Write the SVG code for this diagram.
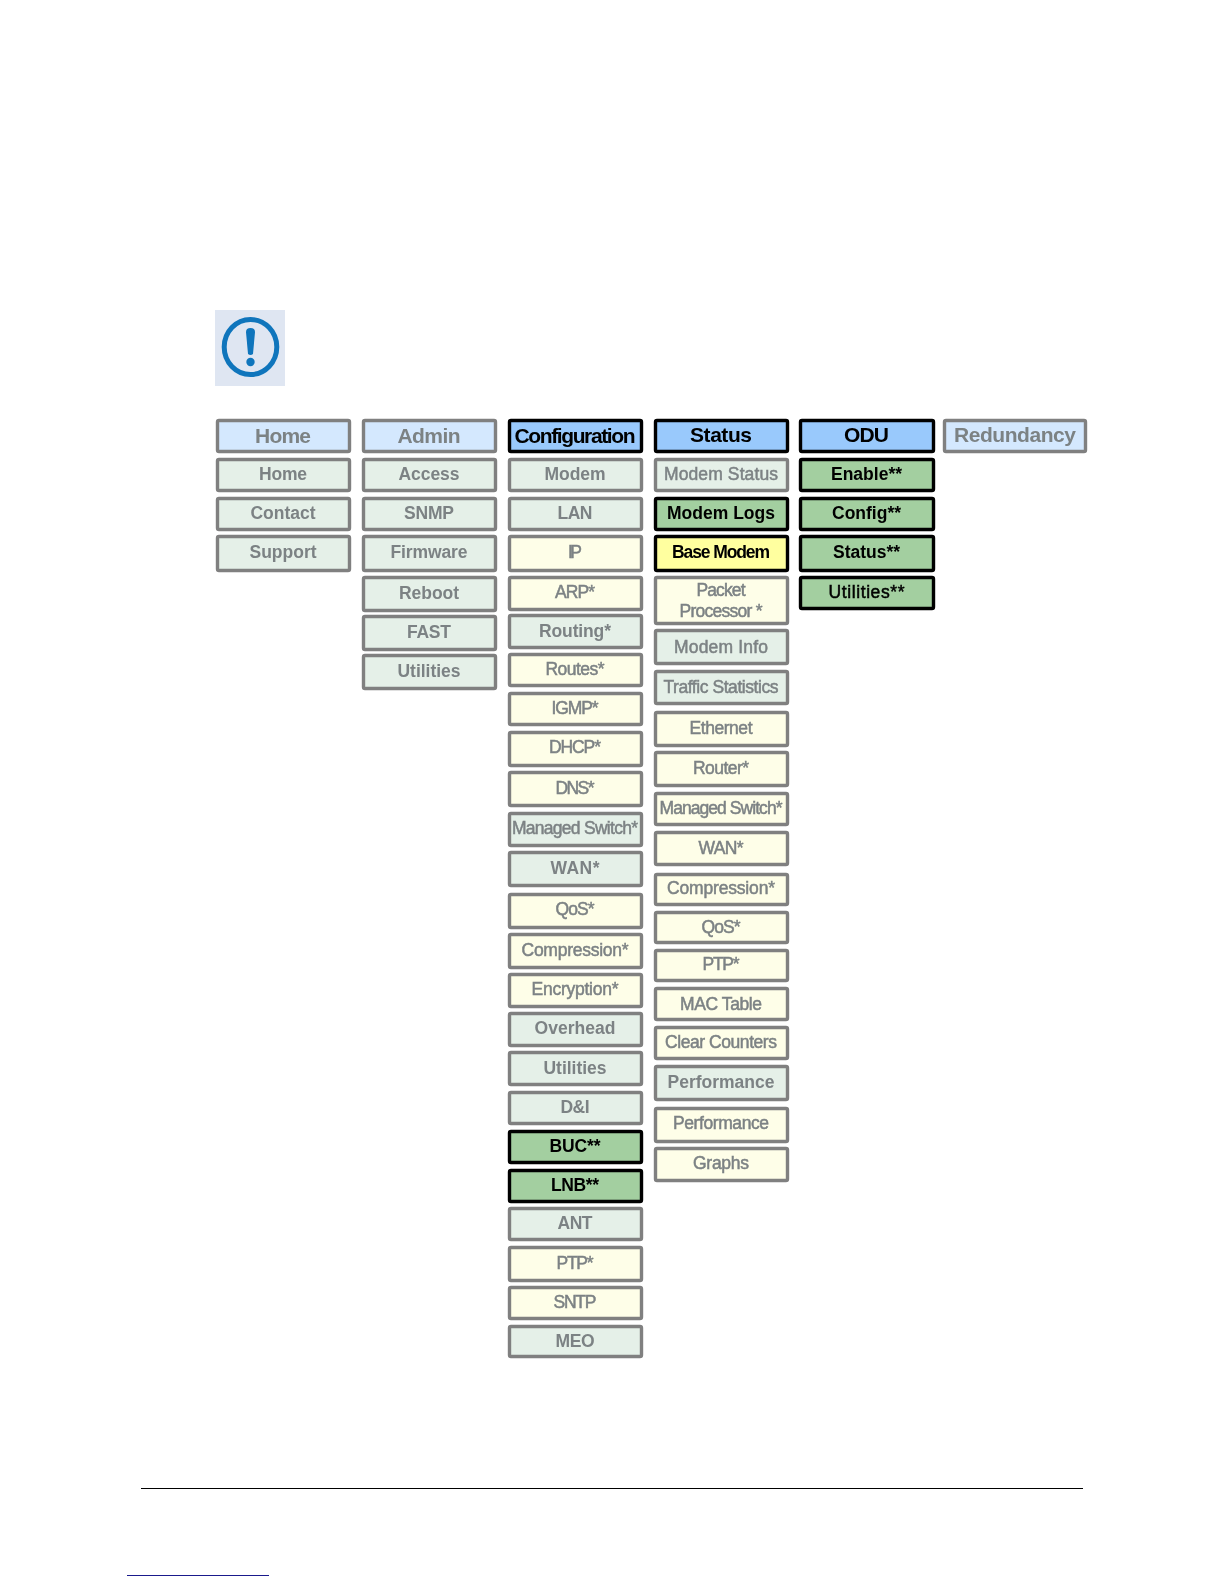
<svg xmlns="http://www.w3.org/2000/svg" width="1224" height="1584" viewBox="0 0 1224 1584">
<defs><filter id="soft" x="-10%" y="-5%" width="120%" height="110%" filterUnits="objectBoundingBox"><feGaussianBlur stdDeviation="0.4"/></filter></defs>
<style>
g.col{filter:url(#soft)}
rect{stroke:#808080;stroke-width:3.4}
rect.h{fill:#d4e8fe}
rect.a{fill:#99c9fc;stroke:#000}
rect.g{fill:#e5f0e8}
rect.y{fill:#fefee8}
rect.d{fill:#a3cfa0;stroke:#000}
rect.b{fill:#ffff9f;stroke:#000}
text{font-family:"Liberation Sans",Arial,sans-serif;font-size:17.500px;text-anchor:middle;fill:#7c8284;font-weight:bold}
text.m{font-weight:normal;font-size:17.500px;stroke:#7c8284;stroke-width:.5}
text.t{font-size:21px}
text.k{fill:#000}
text.km{fill:#000;stroke:#000;font-weight:normal;font-size:17.500px;stroke-width:.5}
</style>
<rect width="1224" height="1584" style="fill:#fff;stroke:none"/>
<g id="icon">
<rect x="215" y="310" width="70" height="76" style="fill:#dfe6f2;stroke:none"/>
<ellipse cx="250.500" cy="347" rx="26.300" ry="27.500" style="fill:none;stroke:#0f75bc;stroke-width:5"/>
<path d="M246 332Q246 328 250.500 328Q255 328 255 332L253 354Q250.500 356 248 354Z" fill="#0f75bc"/>
<circle cx="250.500" cy="362" r="4.200" fill="#0f75bc"/>
</g>
<g id="col-home" class="col">
<g id="n-home-h"><rect class="h" x="217.500" y="420.500" width="132" height="31" rx="1.500"/><text class="t" x="283" y="443" textLength="56">Home</text></g>
<g id="n-home"><rect class="g" x="217.500" y="459.500" width="132" height="31" rx="1.500"/><text x="283" y="480" textLength="48">Home</text></g>
<g id="n-contact"><rect class="g" x="217.500" y="498.500" width="132" height="31" rx="1.500"/><text x="283" y="519" textLength="65">Contact</text></g>
<g id="n-support"><rect class="g" x="217.500" y="536.500" width="132" height="34" rx="1.500"/><text x="283" y="558" textLength="67">Support</text></g>
</g>
<g id="col-admin" class="col">
<g id="n-admin-h"><rect class="h" x="363.500" y="420.500" width="132" height="31" rx="1.500"/><text class="t" x="429" y="443" textLength="63">Admin</text></g>
<g id="n-access"><rect class="g" x="363.500" y="459.500" width="132" height="31" rx="1.500"/><text x="429" y="480" textLength="61">Access</text></g>
<g id="n-snmp"><rect class="g" x="363.500" y="498.500" width="132" height="31" rx="1.500"/><text x="429" y="519" textLength="50">SNMP</text></g>
<g id="n-firmware"><rect class="g" x="363.500" y="536.500" width="132" height="34" rx="1.500"/><text x="429" y="558" textLength="77">Firmware</text></g>
<g id="n-reboot"><rect class="g" x="363.500" y="577.500" width="132" height="33" rx="1.500"/><text x="429" y="599" textLength="60">Reboot</text></g>
<g id="n-fast"><rect class="g" x="363.500" y="616.500" width="132" height="33" rx="1.500"/><text x="429" y="638" textLength="44">FAST</text></g>
<g id="n-admin-util"><rect class="g" x="363.500" y="655.500" width="132" height="33" rx="1.500"/><text x="429" y="677" textLength="63">Utilities</text></g>
</g>
<g id="col-config" class="col">
<g id="n-config-h"><rect class="a" x="509.500" y="420.500" width="132" height="31" rx="1.500"/><text class="t k" x="575" y="443" textLength="121">Configuration</text></g>
<g id="n-modem"><rect class="g" x="509.500" y="459.500" width="132" height="31" rx="1.500"/><text x="575" y="480" textLength="61">Modem</text></g>
<g id="n-lan"><rect class="g" x="509.500" y="498.500" width="132" height="31" rx="1.500"/><text x="575" y="519" textLength="35">LAN</text></g>
<g id="n-ip"><rect class="y" x="509.500" y="536.500" width="132" height="34" rx="1.500"/><text class="m" x="575" y="558" textLength="14">IP</text></g>
<g id="n-arp"><rect class="y" x="509.500" y="577.500" width="132" height="32" rx="1.500"/><text class="m" x="575" y="598" textLength="40">ARP*</text></g>
<g id="n-routing"><rect class="g" x="509.500" y="615.500" width="132" height="32" rx="1.500"/><text x="575" y="637" textLength="72">Routing*</text></g>
<g id="n-routes"><rect class="y" x="509.500" y="654.500" width="132" height="31" rx="1.500"/><text class="m" x="575" y="675" textLength="59">Routes*</text></g>
<g id="n-igmp"><rect class="y" x="509.500" y="693.500" width="132" height="31" rx="1.500"/><text class="m" x="575" y="714" textLength="47">IGMP*</text></g>
<g id="n-dhcp"><rect class="y" x="509.500" y="732.500" width="132" height="33" rx="1.500"/><text class="m" x="575" y="753" textLength="52">DHCP*</text></g>
<g id="n-dns"><rect class="y" x="509.500" y="772.500" width="132" height="33" rx="1.500"/><text class="m" x="575" y="794" textLength="39">DNS*</text></g>
<g id="n-ms"><rect class="g" x="509.500" y="813.500" width="132" height="32" rx="1.500"/><text class="m" x="575" y="834" textLength="126">Managed Switch*</text></g>
<g id="n-wan"><rect class="g" x="509.500" y="852.500" width="132" height="33" rx="1.500"/><text x="575" y="874" textLength="49">WAN*</text></g>
<g id="n-qos"><rect class="y" x="509.500" y="894.500" width="132" height="33" rx="1.500"/><text class="m" x="575" y="915" textLength="39">QoS*</text></g>
<g id="n-comp"><rect class="y" x="509.500" y="934.500" width="132" height="33" rx="1.500"/><text class="m" x="575" y="956" textLength="107">Compression*</text></g>
<g id="n-encr"><rect class="y" x="509.500" y="974.500" width="132" height="32" rx="1.500"/><text class="m" x="575" y="995" textLength="87">Encryption*</text></g>
<g id="n-overhead"><rect class="g" x="509.500" y="1013.500" width="132" height="32" rx="1.500"/><text x="575" y="1034" textLength="81">Overhead</text></g>
<g id="n-util"><rect class="g" x="509.500" y="1052.500" width="132" height="32" rx="1.500"/><text x="575" y="1074" textLength="63">Utilities</text></g>
<g id="n-di"><rect class="g" x="509.500" y="1092.500" width="132" height="31" rx="1.500"/><text x="575" y="1113" textLength="29">D&amp;I</text></g>
<g id="n-buc"><rect class="d" x="509.500" y="1131.500" width="132" height="31" rx="1.500"/><text class="k" x="575" y="1152" textLength="51">BUC**</text></g>
<g id="n-lnb"><rect class="d" x="509.500" y="1170.500" width="132" height="31" rx="1.500"/><text class="k" x="575" y="1191" textLength="48">LNB**</text></g>
<g id="n-ant"><rect class="g" x="509.500" y="1208.500" width="132" height="31" rx="1.500"/><text x="575" y="1229" textLength="35">ANT</text></g>
<g id="n-ptp"><rect class="y" x="509.500" y="1247.500" width="132" height="33" rx="1.500"/><text class="m" x="575" y="1269" textLength="37">PTP*</text></g>
<g id="n-sntp"><rect class="y" x="509.500" y="1287.500" width="132" height="31" rx="1.500"/><text class="m" x="575" y="1308" textLength="43">SNTP</text></g>
<g id="n-meo"><rect class="g" x="509.500" y="1326.500" width="132" height="30" rx="1.500"/><text x="575" y="1347" textLength="39">MEO</text></g>
</g>
<g id="col-status" class="col">
<g id="n-status-h"><rect class="a" x="655.500" y="420.500" width="132" height="31" rx="1.500"/><text class="t k" x="721" y="442" textLength="62">Status</text></g>
<g id="n-modemstatus"><rect class="g" x="655.500" y="459.500" width="132" height="31" rx="1.500"/><text class="m" x="721" y="480" textLength="114">Modem Status</text></g>
<g id="n-logs"><rect class="d" x="655.500" y="498.500" width="132" height="31" rx="1.500"/><text class="k" x="721" y="519" textLength="108">Modem Logs</text></g>
<g id="n-base"><rect class="b" x="655.500" y="536.500" width="132" height="34" rx="1.500"/><text class="k" x="721" y="558" textLength="98">Base Modem</text></g>
<g id="n-packet"><rect class="y" x="655.500" y="577.500" width="132" height="46" rx="1.500"/><text class="m" x="721" y="596" textLength="49">Packet</text><text class="m" x="721" y="617" textLength="83">Processor *</text></g>
<g id="n-info"><rect class="g" x="655.500" y="630.500" width="132" height="33" rx="1.500"/><text class="m" x="721" y="653" textLength="94">Modem Info</text></g>
<g id="n-traffic"><rect class="g" x="655.500" y="671.500" width="132" height="32" rx="1.500"/><text class="m" x="721" y="693" textLength="115">Traffic Statistics</text></g>
<g id="n-ethernet"><rect class="y" x="655.500" y="712.500" width="132" height="33" rx="1.500"/><text class="m" x="721" y="734" textLength="63">Ethernet</text></g>
<g id="n-router"><rect class="y" x="655.500" y="752.500" width="132" height="33" rx="1.500"/><text class="m" x="721" y="774" textLength="56">Router*</text></g>
<g id="n-ms2"><rect class="y" x="655.500" y="793.500" width="132" height="31" rx="1.500"/><text class="m" x="721" y="814" textLength="123">Managed Switch*</text></g>
<g id="n-wan2"><rect class="y" x="655.500" y="832.500" width="132" height="32" rx="1.500"/><text class="m" x="721" y="854" textLength="45">WAN*</text></g>
<g id="n-comp2"><rect class="y" x="655.500" y="874.500" width="132" height="30" rx="1.500"/><text class="m" x="721" y="894" textLength="108">Compression*</text></g>
<g id="n-qos2"><rect class="y" x="655.500" y="912.500" width="132" height="30" rx="1.500"/><text class="m" x="721" y="933" textLength="39">QoS*</text></g>
<g id="n-ptp2"><rect class="y" x="655.500" y="950.500" width="132" height="30" rx="1.500"/><text class="m" x="721" y="970" textLength="37">PTP*</text></g>
<g id="n-mac"><rect class="y" x="655.500" y="988.500" width="132" height="31" rx="1.500"/><text class="m" x="721" y="1010" textLength="82">MAC Table</text></g>
<g id="n-clear"><rect class="y" x="655.500" y="1027.500" width="132" height="31" rx="1.500"/><text class="m" x="721" y="1048" textLength="112">Clear Counters</text></g>
<g id="n-perf"><rect class="g" x="655.500" y="1066.500" width="132" height="33" rx="1.500"/><text x="721" y="1088" textLength="107">Performance</text></g>
<g id="n-perf2"><rect class="y" x="655.500" y="1108.500" width="132" height="33" rx="1.500"/><text class="m" x="721" y="1129" textLength="96">Performance</text></g>
<g id="n-graphs"><rect class="y" x="655.500" y="1148.500" width="132" height="32" rx="1.500"/><text class="m" x="721" y="1169" textLength="56">Graphs</text></g>
</g>
<g id="col-odu" class="col">
<g id="n-odu-h"><rect class="a" x="800.500" y="420.500" width="133" height="31" rx="1.500"/><text class="t k" x="866.500" y="442" textLength="45">ODU</text></g>
<g id="n-enable"><rect class="d" x="800.500" y="459.500" width="133" height="31" rx="1.500"/><text class="k" x="866.500" y="480" textLength="71">Enable**</text></g>
<g id="n-cfg"><rect class="d" x="800.500" y="498.500" width="133" height="31" rx="1.500"/><text class="k" x="866.500" y="519" textLength="69">Config**</text></g>
<g id="n-st"><rect class="d" x="800.500" y="536.500" width="133" height="34" rx="1.500"/><text class="k" x="866.500" y="558" textLength="67">Status**</text></g>
<g id="n-ut"><rect class="d" x="800.500" y="577.500" width="133" height="31" rx="1.500"/><text class="km" x="866.500" y="598" textLength="76">Utilities**</text></g>
</g>
<g id="col-redundancy" class="col">
<g id="n-red-h"><rect class="h" x="944.500" y="420.500" width="141" height="31" rx="1.500"/><text class="t" x="1015" y="442" textLength="122">Redundancy</text></g>
</g>
<path d="M141 1488.500H1083" stroke="#000" stroke-width="1"/>
<path d="M127 1575.500H269" stroke="#1a1a8c" stroke-width="1"/>
</svg>
